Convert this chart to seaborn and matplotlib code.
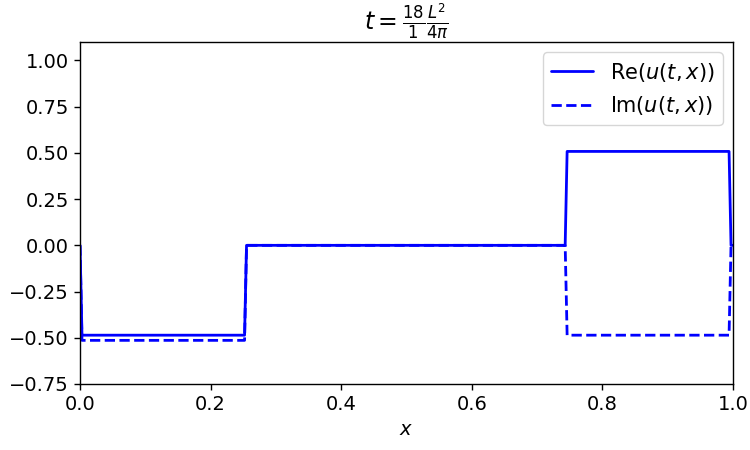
import pandas as pd
import matplotlib
matplotlib.use("Agg")
import matplotlib.pyplot as plt
import seaborn as sns

# breakpoints of the piecewise-constant profile
x_pts = [0.0, 0.003, 0.252, 0.255, 0.743, 0.746, 0.994, 0.997, 1.0]
re_vals = [0.0, -0.486, -0.486, 0.0, 0.0, 0.508, 0.508, 0.0, 0.0]
im_vals = [0.0, -0.514, -0.514, 0.0, 0.0, -0.486, -0.486, 0.0, 0.0]

df = pd.DataFrame({'x': x_pts, 're': re_vals, 'im': im_vals})

sns.set_style("ticks")
plt.rcParams['font.family'] = ['DejaVu Sans']
plt.rcParams['mathtext.fontset'] = 'dejavusans'
plt.rcParams['font.size'] = 14

fig = plt.figure(figsize=(7.5, 4.5), dpi=100)
ax = fig.add_axes([0.1067, 0.1467, 0.8706, 0.76])

sns.lineplot(data=df, x='x', y='re', color='blue', lw=2, ax=ax,
             label=r'Re$(u(t,x))$', sort=False)
sns.lineplot(data=df, x='x', y='im', color='blue', lw=2, ax=ax,
             linestyle='--', label=r'Im$(u(t,x))$', sort=False)

ax.set_xlim(0, 1)
ax.set_ylim(-0.75, 1.1)
ax.set_yticks([-0.75, -0.5, -0.25, 0, 0.25, 0.5, 0.75, 1.0])
ax.set_yticklabels(['−0.75', '−0.50', '−0.25', '0.00', '0.25', '0.50', '0.75', '1.00'])
ax.set_xticks([0, 0.2, 0.4, 0.6, 0.8, 1.0])
ax.tick_params(labelsize=14, direction='out', length=4.5, color='black', width=1,
               labelcolor='black')
for s in ax.spines.values():
    s.set_color('black')
    s.set_linewidth(1)

ax.set_xlabel(r'$x$', fontsize=14, color='black')
ax.set_ylabel('')
ax.set_title(r'$t=\frac{18}{1}\frac{L^2}{4\pi}$', fontsize=17, color='black')
leg = ax.legend(loc='upper right', fontsize=15, frameon=True)
for t in leg.get_texts():
    t.set_color('black')

fig.savefig('out.png', dpi=100)
